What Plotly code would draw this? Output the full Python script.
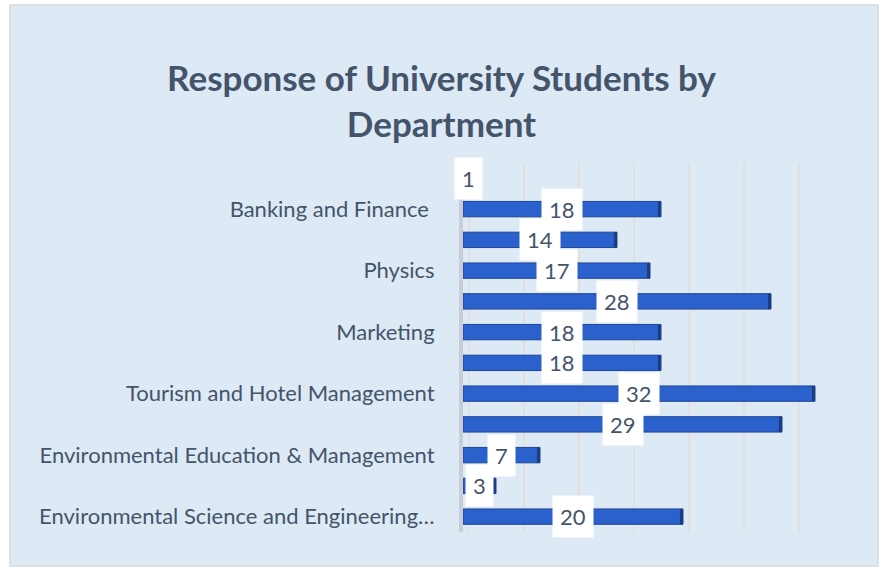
import plotly.graph_objects as go

# Survey responses per department, listed top to bottom
departments = [
    "",
    "Banking and Finance ",
    "",
    "Physics",
    "",
    "Marketing",
    "",
    "Tourism and Hotel Management",
    "",
    "Environmental Education & Management",
    "",
    "Environmental Science and Engineering…",
]
responses = [1, 18, 14, 17, 28, 18, 18, 32, 29, 7, 3, 20]
x_ticks = [0, 5, 10, 15, 20, 25, 30, 35]

positions = list(range(len(responses)))
text_color = "#44546A"
font_family = "Lato, 'Open Sans', sans-serif"

fig = go.Figure()

# main bars
fig.add_trace(go.Bar(
    x=responses, y=positions, orientation="h",
    width=0.5,
    marker=dict(color="#2B61CC", line=dict(color="#1C4596", width=1)),
    hoverinfo="x",
    showlegend=False,
))

# darker end face giving the bars some depth
cap = 0.28
fig.add_trace(go.Bar(
    x=[cap] * len(responses), y=positions, orientation="h",
    base=[v - cap for v in responses],
    width=0.5,
    marker=dict(color="#1A3D86", line=dict(width=0)),
    hoverinfo="skip",
    showlegend=False,
))

# invisible trace holding the gridline axis (sits slightly behind the bars)
fig.add_trace(go.Scatter(
    x=[x_ticks[0], x_ticks[-1]], y=[positions[0], positions[-1]],
    xaxis="x2", mode="markers", marker=dict(opacity=0),
    hoverinfo="skip", showlegend=False,
))

# value labels on white boxes
for p, v in zip(positions, responses):
    fig.add_annotation(
        x=v / 2, y=p, text=str(v), showarrow=False,
        font=dict(family=font_family, size=22, color=text_color),
        bgcolor="white", borderpad=7,
        xanchor="center", yanchor="middle",
    )

fig.update_layout(
    width=883, height=571,
    margin=dict(l=463, r=35, t=163, b=39),
    paper_bgcolor="white",
    plot_bgcolor="rgba(0,0,0,0)",
    barmode="overlay",
    title=dict(
        text="<b>Response of University Students by<br>Department</b>",
        x=0.5, xanchor="center", xref="container",
        y=1 - 91 / 571, yanchor="top", yref="container",
        font=dict(family=font_family, size=35, color=text_color),
    ),
    xaxis=dict(
        range=[0, 35], showgrid=False, zeroline=False,
        showticklabels=False, fixedrange=True,
    ),
    xaxis2=dict(
        overlaying="x", range=[-0.55, 34.45],
        tickvals=x_ticks, showgrid=True, gridcolor="#E4DEDD", gridwidth=1.5,
        zeroline=False, showticklabels=False, fixedrange=True,
    ),
    yaxis=dict(
        range=[len(responses) - 0.5, -0.5],
        tickvals=positions, ticktext=departments,
        showgrid=False, zeroline=False,
        showline=True, linecolor="#C9CED6", linewidth=4,
        ticks="", ticklabelstandoff=20,
        tickfont=dict(family=font_family, size=22, color=text_color),
        fixedrange=True,
    ),
    shapes=[dict(
        type="rect", xref="paper", yref="paper",
        x0=-453 / 385, x1=1 + 30 / 385, y0=-34 / 369, y1=1 + 158 / 369,
        fillcolor="#DDE9F5", line=dict(color="#D9D9D9", width=1.5),
        layer="below",
    )],
)

fig.write_html("out.html")
